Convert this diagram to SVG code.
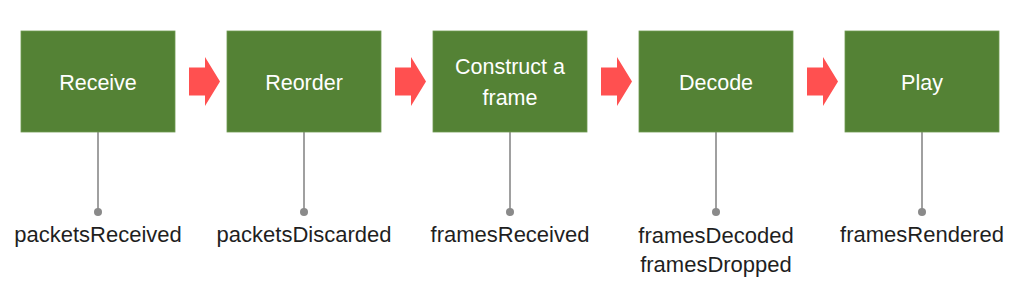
<svg xmlns="http://www.w3.org/2000/svg" width="1024" height="288" viewBox="0 0 1024 288">
<style>
.box{fill:#548235;stroke:#6f9a52;stroke-width:0.8}
.lbl{font-family:"Liberation Sans",Arial,sans-serif;font-size:21.5px;fill:#ffffff;text-anchor:middle}
.metric{font-family:"Liberation Sans",Arial,sans-serif;font-size:22px;fill:#1f1f1f;text-anchor:middle}
.arrow{fill:#ff5050}
.line{stroke:#a0a0a0;stroke-width:2}
.dot{fill:#8a8a8a}
</style>
<defs>
<polygon id="arr" class="arrow" points="0,-14 16,-14 16,-24.5 31,0 16,24.5 16,14 0,14"/>
</defs>
<rect width="1024" height="288" fill="#ffffff"/>
<g id="connectors">
<use href="#arr" x="189" y="81.5"/>
<use href="#arr" x="395" y="81.5"/>
<use href="#arr" x="601" y="81.5"/>
<use href="#arr" x="807" y="81.5"/>
<line class="line" x1="98" y1="132" x2="98" y2="212"/>
<circle class="dot" cx="98" cy="212" r="4"/>
<line class="line" x1="304" y1="132" x2="304" y2="212"/>
<circle class="dot" cx="304" cy="212" r="4"/>
<line class="line" x1="510" y1="132" x2="510" y2="212"/>
<circle class="dot" cx="510" cy="212" r="4"/>
<line class="line" x1="716" y1="132" x2="716" y2="212"/>
<circle class="dot" cx="716" cy="212" r="4"/>
<line class="line" x1="922" y1="132" x2="922" y2="212"/>
<circle class="dot" cx="922" cy="212" r="4"/>
</g>
<g id="receive">
<rect class="box" x="21" y="31" width="154" height="101"/>
<text class="lbl" x="98" y="89.5">Receive</text>
</g>
<g id="reorder">
<rect class="box" x="227" y="31" width="154" height="101"/>
<text class="lbl" x="304" y="89.5">Reorder</text>
</g>
<g id="construct">
<rect class="box" x="433" y="31" width="154" height="101"/>
<text class="lbl" x="510" y="74">Construct a</text>
<text class="lbl" x="510" y="105">frame</text>
</g>
<g id="decode">
<rect class="box" x="639" y="31" width="154" height="101"/>
<text class="lbl" x="716" y="89.5">Decode</text>
</g>
<g id="play">
<rect class="box" x="845" y="31" width="154" height="101"/>
<text class="lbl" x="922" y="89.5">Play</text>
</g>
<g id="metrics">
<text class="metric" x="98" y="242">packetsReceived</text>
<text class="metric" x="304" y="242">packetsDiscarded</text>
<text class="metric" x="510" y="242">framesReceived</text>
<text class="metric" x="716" y="243">framesDecoded</text>
<text class="metric" x="716" y="272">framesDropped</text>
<text class="metric" x="922" y="242">framesRendered</text>
</g>
</svg>
